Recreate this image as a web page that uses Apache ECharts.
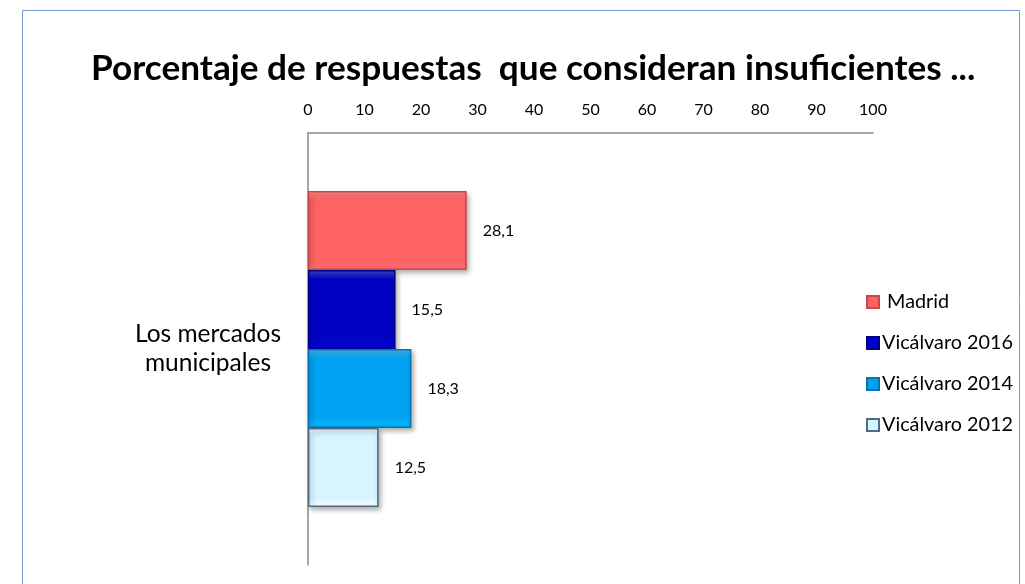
<!DOCTYPE html>
<html><head><meta charset="utf-8">
<script src="https://cdn.jsdelivr.net/npm/echarts@6/dist/echarts.min.js"></script>
<style>html,body{margin:0;padding:0;background:#fff}#c{width:1025px;height:584px}</style>
</head><body><div id="c"></div>
<script>
const categories = ['Los mercados\nmunicipales'];
const seriesNames = ['Madrid', 'Vicálvaro 2016', 'Vicálvaro 2014', 'Vicálvaro 2012'];
const madrid = [28.1];
const vic2016 = [15.5];
const vic2014 = [18.3];
const vic2012 = [12.5];
const xTicks = [0, 10, 20, 30, 40, 50, 60, 70, 80, 90, 100];

const values = [madrid, vic2016, vic2014, vic2012];
const fills = ['#ff6262', '#0202c4', '#03a3f3', '#d8f5ff'];
const edges = ['#c84848', '#000088', '#0a72b0', '#4f6a8a'];
const FONT = 'Lato';

const chart = echarts.init(document.getElementById('c'), null, {renderer: 'canvas'});
chart.setOption({
  animation: false,
  backgroundColor: '#fff',
  title: {
    text: 'Porcentaje de respuestas  que consideran insuficientes ...',
    left: 86, top: 46,
    textStyle: {fontFamily: FONT, fontWeight: 'bold', fontSize: 35.2, color: '#000'}
  },
  graphic: [{
    type: 'rect', shape: {x: 22.5, y: 10.5, width: 997, height: 620},
    style: {fill: 'none', stroke: '#6f9bd6', lineWidth: 1}, silent: true
  }],
  legend: {
    orient: 'vertical', left: 861, top: 287, itemGap: 21,
    itemWidth: 12, itemHeight: 12, icon: 'rect',
    data: seriesNames,
    formatter: n => (n === 'Madrid' ? ' ' + n : n),
    textStyle: {fontFamily: FONT, fontSize: 19.8, color: '#000', padding: [0, 0, 0, -2]}
  },
  grid: {left: 308, right: 152, top: 133, bottom: 19},
  xAxis: {
    type: 'value', position: 'top', min: xTicks[0], max: xTicks[xTicks.length - 1], interval: 10,
    axisLine: {show: true, lineStyle: {color: '#888', width: 1.5}},
    axisTick: {show: false}, splitLine: {show: false},
    axisLabel: {fontFamily: FONT, fontSize: 16, color: '#000', margin: 15}
  },
  yAxis: {
    type: 'category', data: categories, inverse: true,
    axisLine: {show: true, lineStyle: {color: '#888', width: 1.5}},
    axisTick: {show: false},
    axisLabel: {
      fontFamily: FONT, fontSize: 24.5, color: '#000', margin: 26, align: 'right',
      formatter: v => v.split('\n').map(s => '{a|' + s + '}').join('\n'),
      rich: {a: {width: 148, align: 'center', fontFamily: FONT, fontSize: 24.5, lineHeight: 29, color: '#000'}}
    }
  },
  series: seriesNames.map((n, i) => ({
    name: n, type: 'bar', data: values[i], barWidth: 79, barGap: '0%',
    itemStyle: {
      color: new echarts.graphic.LinearGradient(0, 0, 0, 1, [
        {offset: 0, color: echarts.color.lift(fills[i], 0.25)},
        {offset: 0.12, color: fills[i]},
        {offset: 0.88, color: fills[i]},
        {offset: 1, color: echarts.color.lift(fills[i], -0.15)}
      ]),
      borderColor: edges[i], borderWidth: 1.5,
      shadowColor: 'rgba(0,0,0,0.35)', shadowBlur: 5, shadowOffsetX: 2, shadowOffsetY: 3
    },
    label: {show: true, position: 'right', distance: 16, fontFamily: FONT, fontSize: 16, color: '#000',
      formatter: p => String(p.value).replace('.', ',')}
  }))
});
</script></body></html>
